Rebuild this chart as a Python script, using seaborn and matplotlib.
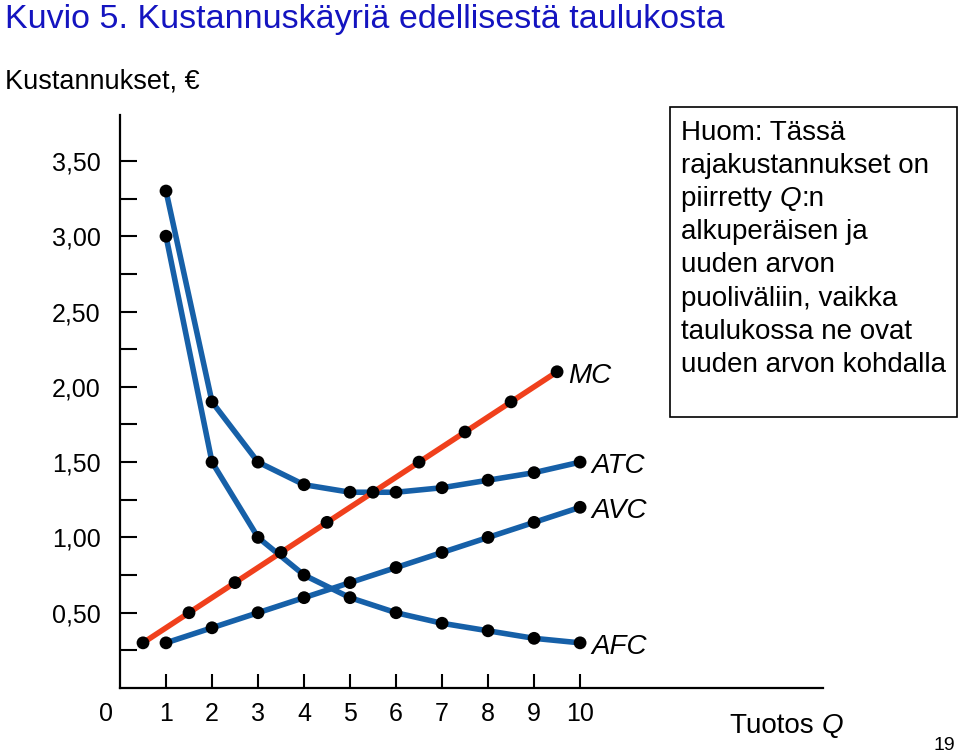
import numpy as np
import pandas as pd
import matplotlib.pyplot as plt
import seaborn as sns
from matplotlib.patches import Rectangle

sns.set_style("white", rc={"text.color": "black", "xtick.color": "black",
                           "ytick.color": "black", "axes.edgecolor": "black"})
plt.rcParams["font.family"] = ["Liberation Sans", "DejaVu Sans"]

# Data
q = [1, 2, 3, 4, 5, 6, 7, 8, 9, 10]
atc = [3.30, 1.90, 1.50, 1.35, 1.30, 1.30, 1.33, 1.38, 1.43, 1.50]
afc = [3.00, 1.50, 1.00, 0.75, 0.60, 0.50, 0.43, 0.38, 0.33, 0.30]
avc = [0.30, 0.40, 0.50, 0.60, 0.70, 0.80, 0.90, 1.00, 1.10, 1.20]
q_mid = [0.5, 1.5, 2.5, 3.5, 4.5, 5.5, 6.5, 7.5, 8.5, 9.5]
mc = [0.30, 0.50, 0.70, 0.90, 1.10, 1.30, 1.50, 1.70, 1.90, 2.10]

y_ticks = [0.5, 1.0, 1.5, 2.0, 2.5, 3.0, 3.5]
y_labels = ["0,50", "1,00", "1,50", "2,00", "2,50", "3,00", "3,50"]
y_minor = [0.25, 0.75, 1.25, 1.75, 2.25, 2.75, 3.25]

blue = "#1660a8"
red = "#f0401c"

fig = plt.figure(figsize=(9.6, 7.54), dpi=100)
ax = fig.add_axes([0.125, 0.0875, 0.7323, 0.76])

curves = [
    ("ATC", q, atc, blue),
    ("AFC", q, afc, blue),
    ("AVC", q, avc, blue),
    ("MC", q_mid, mc, red),
]
for name, xs, ys, col in curves:
    df = pd.DataFrame({"Q": xs, "cost": ys})
    sns.lineplot(data=df, x="Q", y="cost", color=col, lw=4.0, ax=ax, zorder=2)
    sns.scatterplot(data=df, x="Q", y="cost", color="black", s=85,
                    edgecolor="none", ax=ax, zorder=3)
    ax.annotate(name, xy=(xs[-1], ys[-1]), xytext=(8, -3),
                textcoords="offset points", fontsize=20, style="italic",
                va="center", ha="left")

ax.set_xlim(0, 15.28)
ax.set_ylim(0, 3.805)
ax.set_xlabel("")
ax.set_ylabel("")

for s in ["top", "right"]:
    ax.spines[s].set_visible(False)
for s in ["left", "bottom"]:
    ax.spines[s].set_linewidth(1.6)

ax.set_xticks(q)
ax.set_xticklabels([str(v) for v in q])
ax.set_yticks(y_ticks)
ax.set_yticklabels(y_labels)
ax.set_yticks(y_minor, minor=True)
ax.tick_params(axis="y", which="both", direction="in", length=12, width=1.5,
               pad=14, labelsize=18, left=True)
ax.tick_params(axis="x", which="major", direction="in", length=10, width=1.5,
               pad=10, labelsize=18, bottom=True)
ax.annotate("0", xy=(0, 0), xytext=(-10, -10), textcoords="offset points",
            fontsize=18, ha="center", va="top")

fig.text(0.005, 0.995, "Kuvio 5. Kustannuskäyriä edellisestä taulukosta",
         color="#1414c0", fontsize=24.5, ha="left", va="top")
fig.text(0.005, 0.882, "Kustannukset, €", fontsize=19.5, ha="left",
         va="baseline")

# "Tuotos Q" with italic Q
t1 = fig.text(730 / 960, 1 - 733 / 754, "Tuotos ", fontsize=20, ha="left",
              va="baseline")
ax.annotate("Q", xy=(1, 0), xycoords=t1, fontsize=20, style="italic",
            ha="left", va="bottom", annotation_clip=False)
fig.text(944 / 960, 1 - 750 / 754, "19", fontsize=14, ha="center",
         va="baseline")

# note box
note_lines = ["Huom: Tässä", "rajakustannukset on", None, "alkuperäisen ja",
              "uuden arvon", "puoliväliin, vaikka", "taulukossa ne ovat",
              "uuden arvon kohdalla"]
fig.add_artist(Rectangle((670 / 960, 1 - 417 / 754), 287 / 960, 310 / 754,
                         transform=fig.transFigure, fill=False,
                         edgecolor="black", lw=1.2))
for i, line in enumerate(note_lines):
    yb = 1 - (140 + 33.1 * i) / 754
    if line is None:
        # line with italic Q
        p1 = fig.text(681 / 960, yb, "piirretty ", fontsize=20, ha="left",
                      va="baseline")
        p2 = ax.annotate("Q", xy=(1, 0), xycoords=p1, fontsize=20,
                         style="italic", ha="left", va="bottom",
                         annotation_clip=False)
        ax.annotate(":n", xy=(1, 0), xycoords=p2, fontsize=20, ha="left",
                    va="bottom", annotation_clip=False)
    else:
        fig.text(681 / 960, yb, line, fontsize=20, ha="left", va="baseline")

fig.savefig("out.png", dpi=100)
